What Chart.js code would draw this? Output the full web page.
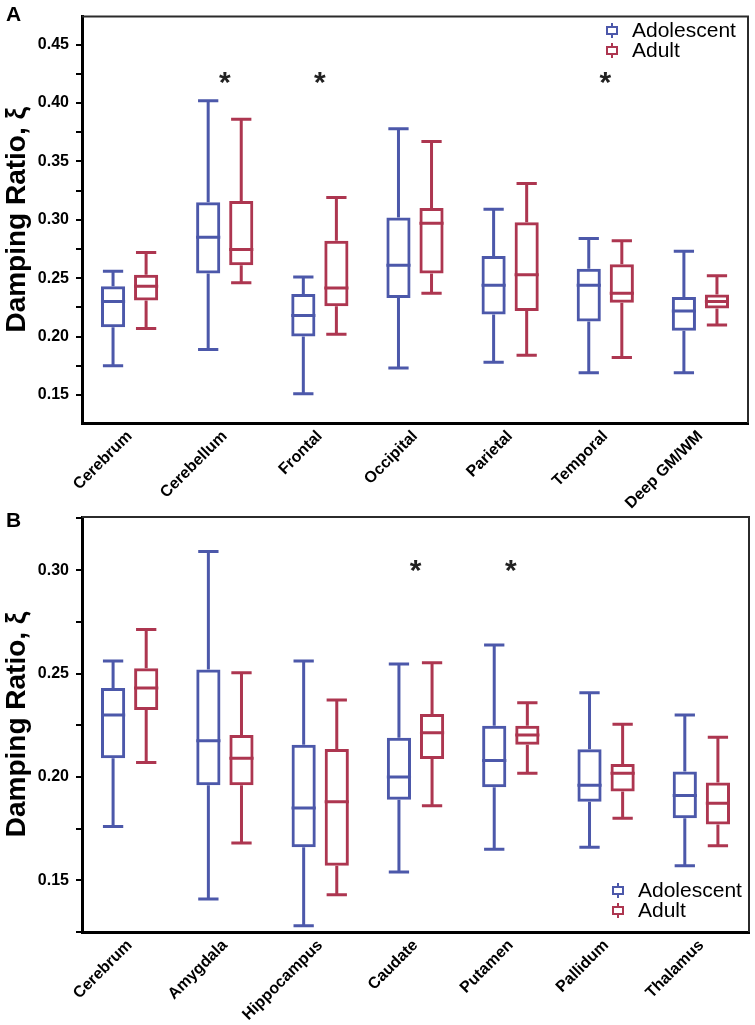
<!DOCTYPE html>
<html>
<head>
<meta charset="utf-8">
<script src="https://cdn.jsdelivr.net/npm/chart.js@4/dist/chart.umd.min.js"></script>
<style>
  html, body { margin: 0; padding: 0; background: #fff; }
  #wrap { position: relative; width: 755px; height: 1025px; }
  canvas { display: block; position: absolute; left: 0; }
  #chartA { top: 0; }
  #chartB { top: 500px; }
</style>
</head>
<body>
<div id="wrap">
<canvas id="chartA" width="755" height="525"></canvas>
<canvas id="chartB" width="755" height="525"></canvas>
</div>
<script>
/* Damping ratio box plots — cortical regions (A) and subcortical regions (B) */

const FONT = "'Liberation Sans', Arial, Helvetica, sans-serif";
const BLUE = '#4c58aa';
const RED = '#ad3650';

Chart.defaults.font.family = FONT;
Chart.defaults.color = '#000';

// ── Panel A data ─────────────────────────────────────────────────────────────

const regionsA = ['Cerebrum', 'Cerebellum', 'Frontal', 'Occipital', 'Parietal', 'Temporal', 'Deep GM/WM'];

const adolMinA = [0.175, 0.189, 0.151, 0.173, 0.178, 0.169, 0.169];
const adolQ1A  = [0.208, 0.254, 0.200, 0.233, 0.219, 0.213, 0.205];
const adolMedA = [0.230, 0.285, 0.218, 0.261, 0.244, 0.244, 0.222];
const adolQ3A  = [0.243, 0.315, 0.2365, 0.302, 0.269, 0.258, 0.234];
const adolMaxA = [0.256, 0.402, 0.251, 0.378, 0.309, 0.284, 0.273];

const adultMinA = [0.207, 0.246, 0.202, 0.237, 0.184, 0.182, 0.210];
const adultQ1A  = [0.231, 0.261, 0.226, 0.254, 0.222, 0.229, 0.224];
const adultMedA = [0.243, 0.2745, 0.2415, 0.297, 0.253, 0.237, 0.230];
const adultQ3A  = [0.253, 0.316, 0.282, 0.310, 0.298, 0.262, 0.236];
const adultMaxA = [0.272, 0.386, 0.319, 0.367, 0.331, 0.282, 0.252];

const signifA = [1, 2, 5];
const starLevelA = 0.42;

// ── Panel B data ─────────────────────────────────────────────────────────────

const regionsB = ['Cerebrum', 'Amygdala', 'Hippocampus', 'Caudate', 'Putamen', 'Pallidum', 'Thalamus'];

const adolMinB = [0.176, 0.141, 0.128, 0.154, 0.165, 0.166, 0.157];
const adolQ1B  = [0.209, 0.196, 0.166, 0.189, 0.195, 0.188, 0.180];
const adolMedB = [0.230, 0.2175, 0.185, 0.200, 0.208, 0.196, 0.191];
const adolQ3B  = [0.243, 0.252, 0.2155, 0.219, 0.2247, 0.2134, 0.2026];
const adolMaxB = [0.256, 0.309, 0.256, 0.2546, 0.2638, 0.2407, 0.230];

const adultMinB = [0.207, 0.168, 0.143, 0.186, 0.2018, 0.180, 0.1667];
const adultQ1B  = [0.2324, 0.196, 0.157, 0.2087, 0.2155, 0.193, 0.177];
const adultMedB = [0.243, 0.209, 0.188, 0.2214, 0.2203, 0.2018, 0.1873];
const adultQ3B  = [0.2525, 0.2203, 0.2135, 0.2304, 0.2247, 0.2063, 0.1973];
const adultMaxB = [0.2713, 0.2504, 0.2372, 0.2552, 0.2359, 0.2255, 0.2192];

const signifB = [3, 4];
const starLevelB = 0.301;

const groupLabels = ['Adolescent', 'Adult'];

// ── Whiskers, medians, frame, stars, legend ─────────────────────────────────

const boxPlugin = {
  id: 'boxWhiskers',
  afterDatasetsDraw(chart, args, opts) {
    const { ctx, chartArea: area, scales: { x, y } } = chart;
    ctx.save();
    ctx.lineWidth = 3;
    ctx.lineCap = 'butt';
    chart.data.datasets.forEach((ds, i) => {
      const meta = chart.getDatasetMeta(i);
      ctx.strokeStyle = ds.borderColor;
      meta.data.forEach((bar, j) => {
        const half = bar.width / 2;
        const cap = bar.width * 0.42;
        const yMin = y.getPixelForValue(ds.mins[j]);
        const yQ1 = y.getPixelForValue(ds.data[j][0]);
        const yQ3 = y.getPixelForValue(ds.data[j][1]);
        const yMax = y.getPixelForValue(ds.maxs[j]);
        const yMed = y.getPixelForValue(ds.medians[j]);
        ctx.beginPath();
        ctx.moveTo(bar.x, yQ3); ctx.lineTo(bar.x, yMax);
        ctx.moveTo(bar.x - cap, yMax); ctx.lineTo(bar.x + cap, yMax);
        ctx.moveTo(bar.x, yQ1); ctx.lineTo(bar.x, yMin);
        ctx.moveTo(bar.x - cap, yMin); ctx.lineTo(bar.x + cap, yMin);
        ctx.moveTo(bar.x - half, yMed); ctx.lineTo(bar.x + half, yMed);
        ctx.stroke();
      });
    });

    // top and right frame
    ctx.strokeStyle = '#2b2b2b';
    ctx.lineWidth = 2;
    ctx.beginPath();
    ctx.moveTo(area.left, area.top);
    ctx.lineTo(area.right, area.top);
    ctx.lineTo(area.right, area.bottom);
    ctx.stroke();

    // significance stars
    ctx.fillStyle = '#222';
    ctx.font = 'bold 30px ' + FONT;
    ctx.textAlign = 'center';
    ctx.textBaseline = 'alphabetic';
    const sy = y.getPixelForValue(opts.starLevel);
    opts.stars.forEach(k => ctx.fillText('*', x.getPixelForValue(k), sy + 12));

    // panel letter
    ctx.fillStyle = '#000';
    ctx.font = 'bold 21px ' + FONT;
    ctx.textAlign = 'left';
    ctx.fillText(opts.letter, opts.letterX, opts.letterY);

    // legend
    ctx.font = '21px ' + FONT;
    ctx.textBaseline = 'middle';
    chart.data.datasets.forEach((ds, i) => {
      const cy = opts.legendY + i * 20;
      const cx = area.right - opts.legendDx;
      ctx.strokeStyle = ds.borderColor;
      ctx.lineWidth = 2;
      ctx.beginPath();
      ctx.rect(cx - 5, cy - 3, 10, 7);
      ctx.moveTo(cx, cy - 7); ctx.lineTo(cx, cy - 3);
      ctx.moveTo(cx, cy + 4); ctx.lineTo(cx, cy + 8);
      ctx.stroke();
      ctx.fillStyle = '#000';
      ctx.fillText(ds.label, cx + 20, cy + 1);
    });
    ctx.restore();
  }
};

function boxDataset(label, color, mins, q1, med, q3, maxs) {
  return {
    label,
    data: q1.map((v, k) => [v, q3[k]]),
    mins, medians: med, maxs,
    backgroundColor: 'rgba(0,0,0,0)',
    borderColor: color,
    borderWidth: 3,
    borderSkipped: false,
    categoryPercentage: 0.695,
    barPercentage: 0.73,
  };
}

function makeChart(id, cfg) {
  return new Chart(document.getElementById(id), {
    type: 'bar',
    data: {
      labels: cfg.labels,
      datasets: [
        boxDataset(groupLabels[0], BLUE, ...cfg.adol),
        boxDataset(groupLabels[1], RED, ...cfg.adult),
      ]
    },
    options: {
      responsive: false,
      animation: false,
      layout: { padding: { top: cfg.top, right: cfg.right, left: 0, bottom: 0 } },
      plugins: {
        legend: { display: false },
        tooltip: { enabled: false },
        boxWhiskers: {
          stars: cfg.stars, starLevel: cfg.starLevel,
          letter: cfg.letter, letterX: 6, letterY: cfg.letterY,
          legendY: cfg.legendY, legendDx: cfg.legendDx,
        }
      },
      scales: {
        x: {
          afterFit: s => { s.height = cfg.xHeight; },
          grid: { display: false, drawTicks: false },
          border: { color: '#000', width: 3 },
          ticks: {
            autoSkip: false, maxRotation: 45, minRotation: 45, padding: 4,
            font: { size: 16, weight: 'bold' }, color: '#000'
          }
        },
        y: {
          min: cfg.yMin, max: cfg.yMax,
          afterFit: s => { s.width = 82; },
          border: { color: '#000', width: 3 },
          grid: { drawOnChartArea: false, drawTicks: true, tickLength: 6, lineWidth: 2, color: '#000' },
          title: {
            display: true, text: 'Damping Ratio, ξ', color: '#000',
            font: { size: 28, weight: 'bold' }, padding: { top: 0, bottom: 0 }
          },
          ticks: {
            stepSize: 0.025, includeBounds: false, padding: 7,
            font: { size: 16, weight: 'bold' }, color: '#000',
            callback: v => {
              const r = v / 0.05;
              return Math.abs(r - Math.round(r)) < 1e-6 ? v.toFixed(2) : '';
            }
          }
        }
      }
    },
    plugins: [boxPlugin]
  });
}

// canvas A is 525 tall so the last rotated label can run past y=500
makeChart('chartA', {
  labels: regionsA,
  adol: [adolMinA, adolQ1A, adolMedA, adolQ3A, adolMaxA],
  adult: [adultMinA, adultQ1A, adultMedA, adultQ3A, adultMaxA],
  stars: signifA, starLevel: starLevelA,
  yMin: 0.126, yMax: 0.474,
  top: 12, right: 7, xHeight: 102,
  letter: 'A', letterY: 21,
  legendY: 30, legendDx: 136,
});

makeChart('chartB', {
  labels: regionsB,
  adol: [adolMinB, adolQ1B, adolMedB, adolQ3B, adolMaxB],
  adult: [adultMinB, adultQ1B, adultMedB, adultQ3B, adultMaxB],
  stars: signifB, starLevel: starLevelB,
  yMin: 0.125, yMax: 0.3257,
  top: 17, right: 6, xHeight: 93,
  letter: 'B', letterY: 27,
  legendY: 390, legendDx: 131,
});
</script>
</body>
</html>
